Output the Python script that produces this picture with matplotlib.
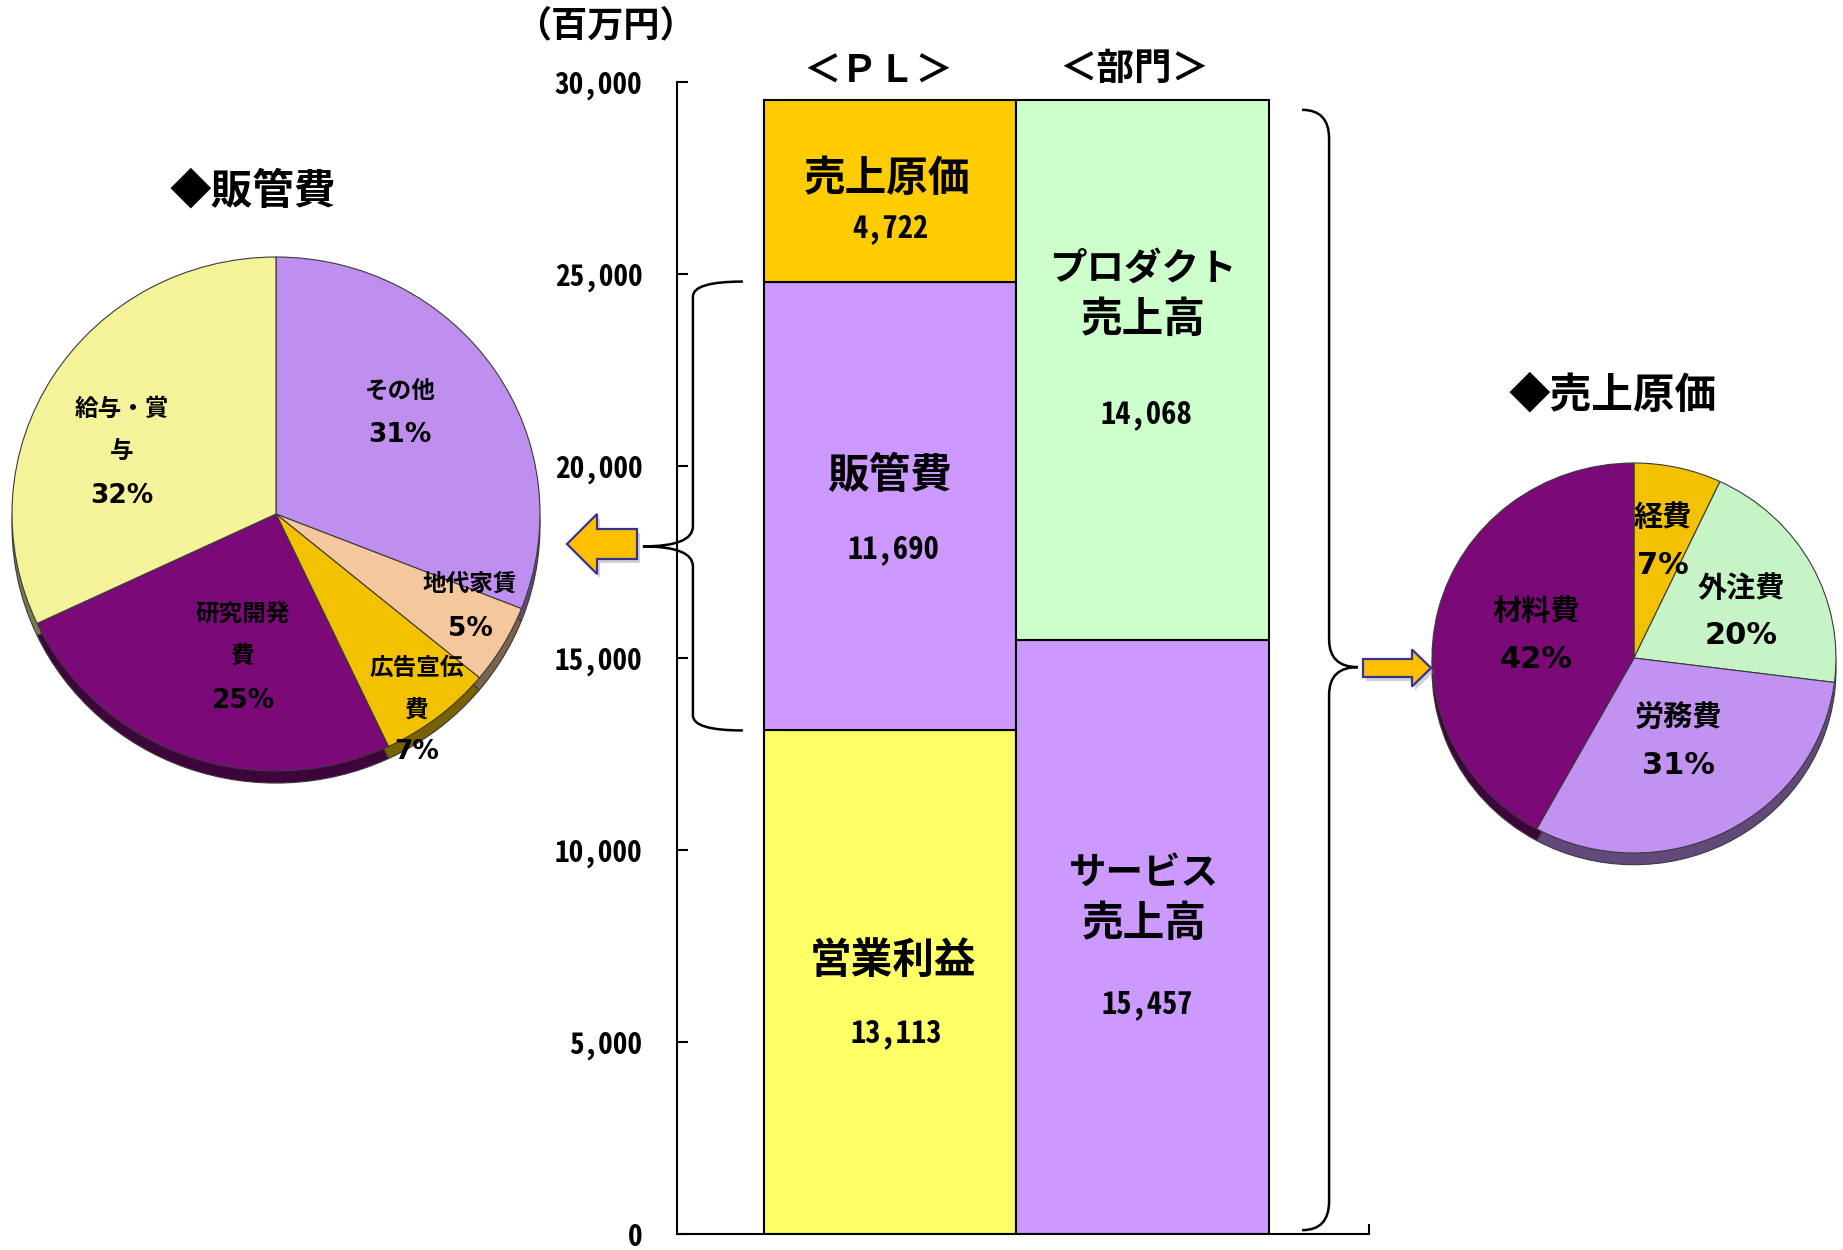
import numpy as np
import matplotlib
matplotlib.use('Agg')
import matplotlib.pyplot as plt
import matplotlib.colors as mcolors
from matplotlib.path import Path
from matplotlib.patches import PathPatch, Polygon

W, H = 1843, 1250

# stacked columns (百万円)
pl_items = ['営業利益', '販管費', '売上原価']
pl_values = [13113, 11690, 4722]
seg_items = ['サービス\n売上高', 'プロダクト\n売上高']
seg_values = [15457, 14068]
yticks = [0, 5000, 10000, 15000, 20000, 25000, 30000]

# 販管費 breakdown (%)
sga_labels = ['その他', '地代家賃', '広告宣伝費', '研究開発費', '給与・賞与']
sga_pcts = [31, 5, 7, 25, 32]

# 売上原価 breakdown (%)
cogs_labels = ['経費', '外注費', '労務費', '材料費']
cogs_pcts = [7, 20, 31, 42]

pl_colors = ['#FFFF66', '#CC99FF', '#FFCC00']
seg_colors = ['#CC99FF', '#CCFFCC']
sga_colors = ['#BF8FF0', '#F5C79C', '#F2C200', '#7B0A78', '#F5F39A']
cogs_colors = ['#F2C200', '#C6F4C6', '#C292F2', '#7B0A78']

JP = ['Noto Sans CJK JP', 'DejaVu Sans']
VAL = ['Noto Sans Mono CJK JP', 'Liberation Sans', 'DejaVu Sans']
plt.rcParams['font.family'] = JP

fig = plt.figure(figsize=(W / 100, H / 100), dpi=100)

# ---- bar chart ----
ax = fig.add_axes([677 / W, (H - 1234) / H, (1369 - 677) / W, (1234 - 82) / H])
ax.set_xlim(-0.843, 1.897)
ax.set_ylim(0, 30000)

bottoms = np.concatenate([[0], np.cumsum(pl_values)[:-1]])
ax.bar([0] * len(pl_values), pl_values, bottom=bottoms, width=1.0,
       color=pl_colors, edgecolor='black', linewidth=1.5, zorder=2)
bottoms2 = np.concatenate([[0], np.cumsum(seg_values)[:-1]])
ax.bar([1] * len(seg_values), seg_values, bottom=bottoms2, width=1.0,
       color=seg_colors, edgecolor='black', linewidth=1.5, zorder=2)

for s in ['top', 'right']:
    ax.spines[s].set_visible(False)
for s in ['left', 'bottom']:
    ax.spines[s].set_linewidth(1.5)
ax.set_yticks(yticks)
ax.set_yticklabels([f'{v:,}' for v in yticks])
ax.tick_params(axis='y', direction='in', length=8, width=1.5, pad=25, labelsize=21)
for lbl in ax.get_yticklabels():
    lbl.set_fontfamily(VAL)
    lbl.set_fontweight('bold')
ax.set_xticks([0.848, 1.897])
ax.set_xticklabels([])
ax.tick_params(axis='x', direction='in', length=7, width=1.5)
ax.set_facecolor('none')


def brace(x_end, x_vert, x_tip, y0, y1, ytip, r_end, r_mid):
    verts = [(x_end, y1), (x_vert, y1), (x_vert, y1 - r_end),
             (x_vert, ytip + r_mid), (x_vert, ytip), (x_tip, ytip),
             (x_vert, ytip), (x_vert, ytip - r_mid),
             (x_vert, y0 + r_end), (x_vert, y0), (x_end, y0)]
    codes = [Path.MOVETO, Path.CURVE3, Path.CURVE3,
             Path.LINETO, Path.CURVE3, Path.CURVE3,
             Path.CURVE3, Path.CURVE3,
             Path.LINETO, Path.CURVE3, Path.CURVE3]
    ax.add_patch(PathPatch(Path(verts, codes), fill=False, lw=1.8,
                           edgecolor='black', clip_on=False, zorder=3))


sga_lo = pl_values[0]
sga_hi = pl_values[0] + pl_values[1]
brace(-0.582, -0.780, -0.978, sga_lo, sga_hi, sga_lo + 0.41 * pl_values[1], 390, 520)
total = sum(seg_values)
brace(1.632, 1.739, 1.853, 100, total - 250, total / 2, 750, 720)


# ---- pies ----
def pie_axes(cx, cy, rx, ry, vals, cols, depth):
    pad = 1.15
    pa = fig.add_axes([(cx - pad * rx) / W, (H - cy - pad * ry) / H,
                       2 * pad * rx / W, 2 * pad * ry / H])
    dark = [tuple(np.array(mcolors.to_rgb(c)) * 0.5) for c in cols]
    wp = dict(edgecolor='#3a3a3a', linewidth=0.8)
    pa.pie(vals, colors=dark, startangle=90, counterclock=False,
           center=(0, -depth), wedgeprops=wp)
    pa.pie(vals, colors=cols, startangle=90, counterclock=False,
           wedgeprops=wp)
    pa.set_xlim(-pad, pad)
    pa.set_ylim(-pad, pad)
    pa.set_aspect('auto')
    pa.axis('off')
    return pa


pie_axes(276, 514, 264, 257, sga_pcts, sga_colors, 0.047)
pie_axes(1634, 658, 202, 195, cogs_pcts, cogs_colors, 0.06)

# ---- overlay for free text and arrows ----
ov = fig.add_axes([0, 0, 1, 1])
ov.set_xlim(0, W)
ov.set_ylim(H, 0)
ov.axis('off')
ov.set_zorder(10)


def arrow(tip_x, tip_y, length, head_len, head_half, body_half, d):
    bx = tip_x - d * head_len
    tx = tip_x - d * length
    pts = [(tip_x, tip_y), (bx, tip_y - head_half), (bx, tip_y - body_half),
           (tx, tip_y - body_half), (tx, tip_y + body_half),
           (bx, tip_y + body_half), (bx, tip_y + head_half)]
    sh = [(x + 3, y + 4) for x, y in pts]
    ov.add_patch(Polygon(sh, closed=True, facecolor='#999999', alpha=0.45,
                         edgecolor='none'))
    ov.add_patch(Polygon(pts, closed=True, facecolor='#FFC000',
                         edgecolor='#33339A', linewidth=1.6))


arrow(567, 544, 70, 30, 30, 15, -1)
arrow(1431, 668, 68, 19, 18.5, 9, 1)

ov.text(605, 26, '（百万円）', fontsize=26, fontweight='bold', ha='center', va='center')
ov.text(878, 71, '＜ＰＬ＞', fontsize=27, fontweight='bold', ha='center', va='center')
ov.text(1134, 68, '＜部門＞', fontsize=27, fontweight='bold', ha='center', va='center')
ov.text(253, 192, '◆販管費', fontsize=30, fontweight='bold', ha='center', va='center')
ov.text(1613, 395, '◆売上原価', fontsize=30, fontweight='bold', ha='center', va='center')

# bar labels: name lines, value
pl_text_pos = [(893, [961], 1034), (890, [476], 550), (887, [179], 229)]
seg_text_pos = [(1144, [872, 924], 1005), (1143, [268, 320], 415)]
for items, vals, pos in [(pl_items, pl_values, pl_text_pos),
                         (seg_items, seg_values, seg_text_pos)]:
    for name, v, (x, ys, yv) in zip(items, vals, pos):
        for line, y in zip(name.split('\n'), ys):
            fs = 27 if line[0] in 'サプ' else 30
            ov.text(x, y, line, fontsize=fs, fontweight='bold', ha='center', va='center')
        ov.text(x + 3, yv, f'{v:,}', fontsize=22, fontweight='bold', family=VAL,
                ha='center', va='center')


def wrap4(s):
    return [s[i:i + 4] for i in range(0, len(s), 4)]


sga_text_pos = [(400, 391, 435), (470, 584, 629), (417, 668, 752),
                (243, 614, 701), (122, 409, 496)]
for name, p, (x, y, yp) in zip(sga_labels, sga_pcts, sga_text_pos):
    for i, line in enumerate(wrap4(name)):
        ov.text(x, y + 42 * i, line, fontsize=17, fontweight='bold', ha='center', va='center')
    ov.text(x, yp, f'{p}%', fontsize=19, fontweight='bold',
            family=['DejaVu Sans'], ha='center', va='center')

cogs_text_pos = [(1663, 517, 565), (1741, 588, 636), (1678, 718, 765), (1536, 611, 659)]
for name, p, (x, y, yp) in zip(cogs_labels, cogs_pcts, cogs_text_pos):
    ov.text(x, y, name, fontsize=21, fontweight='bold', ha='center', va='center')
    ov.text(x, yp, f'{p}%', fontsize=22, fontweight='bold',
            family=['DejaVu Sans'], ha='center', va='center')

fig.savefig('out.png', dpi=100)
